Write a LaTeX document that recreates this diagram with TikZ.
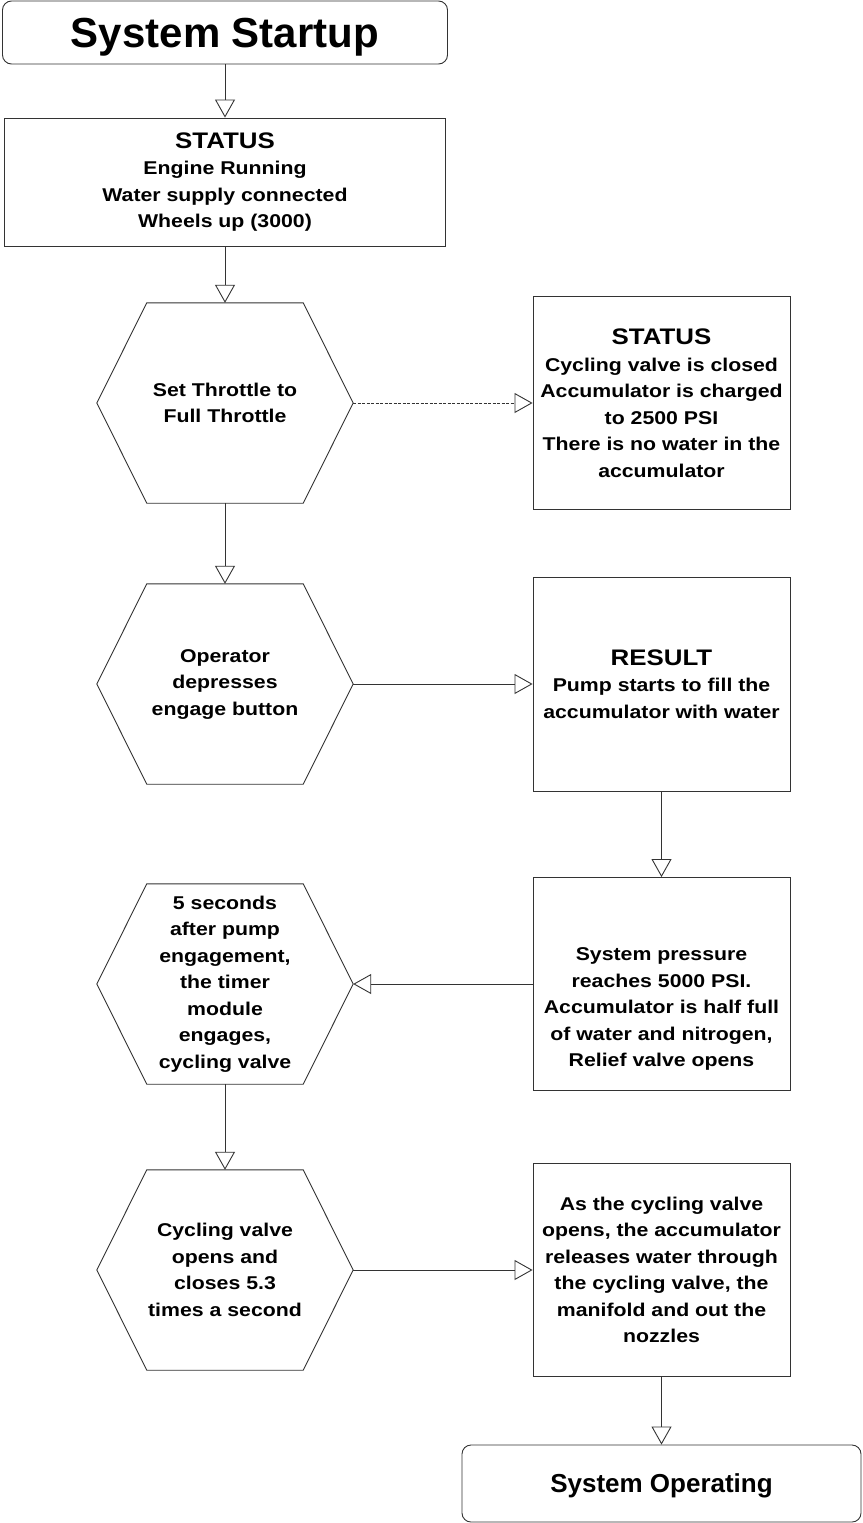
\documentclass[tikz,border=0pt]{standalone}
\usepackage{fontspec}
\setmainfont{Liberation Sans}
\newfontfamily\wide[FakeStretch=1.15]{Liberation Sans}
\usetikzlibrary{arrows.meta}
\newcommand\head{\fontsize{22.5}{28}\selectfont}
\tikzset{
box/.style = {rectangle, draw=black!80, line width=0.9pt, inner sep=0pt,
              minimum width=#1, align=center},
box/.default = 257pt, % width of the right column boxes
term/.style = {box=#1, rounded corners=9pt, text depth=0pt},
hex/.style = {rectangle, inner sep=0pt, minimum width=256pt,
              minimum height=200pt, align=center},
body/.style = {font=\wide\bfseries\fontsize{18.5}{26.5}\selectfont},
flow/.style = {draw=black!80, line width=0.9pt,
               -{Triangle[open, length=18pt, width=20pt]}}
}

\begin{document}
\begin{tikzpicture}[x=1pt, y=-1pt]
	\def \hx{225}   % left column
	\def \bx{661.5} % right column
	\def \slant{50}
	\useasboundingbox (0,0) rectangle (862,1523);

	% Start and end
	\node[term=445pt, minimum height=63pt, font=\bfseries\fontsize{42}{50}\selectfont] (start) at (\hx,32.5) {System Startup};
	\node[term=399pt, minimum height=77pt, font=\bfseries\fontsize{26}{30}\selectfont] (run) at (\bx,1483.5) {System Operating};

	% Left column
	\node[box=441pt, minimum height=128pt, body] (status) at (\hx,182) {{\head STATUS}\\Engine Running\\Water supply connected\\Wheels up (3000)};
	\node[hex, body] (set) at (\hx,403) {Set Throttle to\\Full Throttle};
	\node[hex, body] (oper) at (\hx,684) {Operator\\depresses\\engage button};
	\node[hex, body] (timer) at (\hx,984) {5 seconds\\after pump\\engagement,\\the timer\\module\\engages,\\cycling valve};
	\node[hex, body] (cycle) at (\hx,1270) {Cycling valve\\opens and\\closes 5.3\\times a second};

	% Right column
	\node[box, minimum height=213pt, body] (cond) at (\bx,403) {{\head STATUS}\\Cycling valve is closed\\Accumulator is charged\\to 2500 PSI\\There is no water in the\\accumulator};
	\node[box, minimum height=214pt, body] (result) at (\bx,684) {{\head RESULT}\\Pump starts to fill the\\accumulator with water};
	\node[box, minimum height=213pt, body] (press) at (\bx,984) {\mbox{}\\[37pt]System pressure\\reaches 5000 PSI.\\Accumulator is half full\\of water and nitrogen,\\Relief valve opens};
	\node[box, minimum height=213pt, body] (release) at (\bx,1270) {As the cycling valve\\opens, the accumulator\\releases water through\\the cycling valve, the\\manifold and out the\\nozzles};

	% Hexagons
	\foreach \n in {set,oper,timer,cycle}
		\draw[draw=black!80, line width=0.9pt] (\n.west) -- ([xshift=\slant pt]\n.north west) -- ([xshift=-\slant pt]\n.north east) -- (\n.east) -- ([xshift=-\slant pt]\n.south east) -- ([xshift=\slant pt]\n.south west) -- cycle;

	% Flow
	\draw[flow] (start) -- (status);
	\draw[flow] (status) -- (set);
	\draw[flow, dash pattern=on 3pt off 1.5pt] (set) -- (cond);
	\draw[flow] (set) -- (oper);
	\draw[flow] (oper) -- (result);
	\draw[flow] (result) -- (press);
	\draw[flow] (press) -- (timer);
	\draw[flow] (timer) -- (cycle);
	\draw[flow] (cycle) -- (release);
	\draw[flow] (release) -- (run);

\end{tikzpicture}
\end{document}
